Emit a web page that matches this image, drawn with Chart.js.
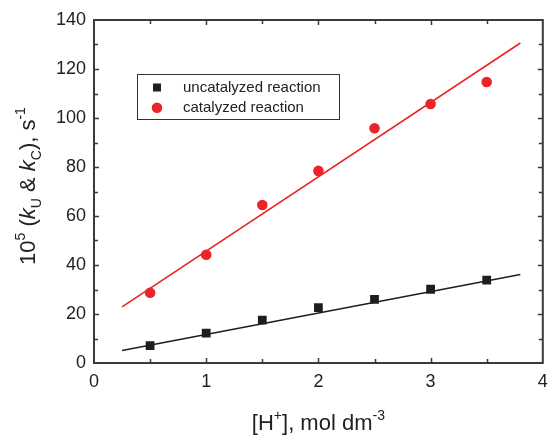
<!DOCTYPE html>
<html>
<head>
<meta charset="utf-8">
<script src="https://cdn.jsdelivr.net/npm/chart.js@4.4.1/dist/chart.umd.min.js"></script>
<style>
  html, body { margin: 0; padding: 0; background: #fff; }
  #wrap { width: 549px; height: 435px; }
</style>
</head>
<body>
<div id="wrap"><canvas id="chart"></canvas></div>
<script>
// [H+] concentrations, mol dm-3
var hConc = [0.5, 1.0, 1.5, 2.0, 2.5, 3.0, 3.5];
// 10^5 k values
var kUncat = [7.1, 12.2, 17.5, 22.6, 26.0, 30.1, 33.8];
var kCat = [28.7, 44.2, 64.5, 78.4, 95.8, 105.7, 114.7];
// fitted lines, end points
var fitX = [0.25, 3.8];
var fitUncat = [5.1, 36.1];
var fitCat = [22.9, 130.6];

var xTicks = [0, 1, 2, 3, 4];
var yTicks = [0, 20, 40, 60, 80, 100, 120, 140];

var BLACK = '#1e1e1e';
var RED = '#ea2427';
var AXIS = '#3a3a3a';

function pts(xs, ys) {
    return xs.map(function (v, i) { return { x: v, y: ys[i] }; });
}

// draw text with super/subscripts, parts = [[text, kind, italic]]
function richWidth(ctx, parts, size) {
    var w = 0;
    parts.forEach(function (p) {
        var s = p[1] ? Math.round(size * 0.62) : size;
        ctx.font = (p[2] ? 'italic ' : '') + s + 'px "Liberation Sans", Arial, sans-serif';
        w += ctx.measureText(p[0]).width;
    });
    return w;
}
function richText(ctx, parts, size, x, y) {
    var cx = x - richWidth(ctx, parts, size) / 2;
    ctx.textBaseline = 'alphabetic';
    ctx.textAlign = 'left';
    parts.forEach(function (p) {
        var s = p[1] ? Math.round(size * 0.62) : size;
        var dy = p[1] === 'sup' ? -size * 0.45 : (p[1] === 'sub' ? size * 0.25 : 0);
        ctx.font = (p[2] ? 'italic ' : '') + s + 'px "Liberation Sans", Arial, sans-serif';
        ctx.fillText(p[0], cx, y + dy);
        cx += ctx.measureText(p[0]).width;
    });
}

var decor = {
    id: 'decor',
    afterDraw: function (chart) {
        var ctx = chart.ctx, a = chart.chartArea;
        var x = chart.scales.x, y = chart.scales.y;
        ctx.save();

        // frame
        ctx.strokeStyle = AXIS;
        ctx.lineWidth = 2;
        ctx.strokeRect(a.left, a.top, a.right - a.left, a.bottom - a.top);

        // inward ticks
        ctx.lineWidth = 1.5;
        ctx.beginPath();
        for (var v = 0.5; v < 4; v += 0.5) {
            var px = Math.round(x.getPixelForValue(v)) + 0.5;
            var len = (v % 1 === 0) ? 5 : 4;
            ctx.moveTo(px, a.bottom); ctx.lineTo(px, a.bottom - len);
            ctx.moveTo(px, a.top); ctx.lineTo(px, a.top + len);
        }
        for (var w = 10; w < 140; w += 10) {
            var py = Math.round(y.getPixelForValue(w)) + 0.5;
            var l2 = (w % 20 === 0) ? 5 : 4;
            ctx.moveTo(a.left, py); ctx.lineTo(a.left + l2, py);
            ctx.moveTo(a.right, py); ctx.lineTo(a.right - l2, py);
        }
        ctx.stroke();

        // legend box
        ctx.lineWidth = 1;
        ctx.strokeStyle = '#333';
        ctx.strokeRect(137.5, 74.5, 202, 45);
        var sets = chart.data.datasets;
        ctx.font = '15px "Liberation Sans", Arial, sans-serif';
        ctx.textBaseline = 'middle';
        ctx.textAlign = 'left';
        ctx.fillStyle = '#222';
        ctx.fillText(sets[0].label, 183, 87.5);
        ctx.fillText(sets[1].label, 183, 107.5);
        ctx.fillStyle = BLACK;
        ctx.fillRect(153, 83.5, 8, 8);
        ctx.fillStyle = RED;
        ctx.beginPath();
        ctx.arc(157, 107.7, 5.3, 0, Math.PI * 2);
        ctx.fill();

        // axis titles
        ctx.fillStyle = '#222';
        richText(ctx, [['[H'], ['+', 'sup'], ['], mol dm'], ['-3', 'sup']], 22, (a.left + a.right) / 2, 430);

        ctx.translate(35, 186);
        ctx.rotate(-Math.PI / 2);
        richText(ctx, [['10'], ['5', 'sup'], [' ('], ['k', null, true], ['U', 'sub'], [' & '],
            ['k', null, true], ['C', 'sub'], ['), s'], ['-1', 'sup']], 22, 0, 0);
        ctx.restore();
    }
};

new Chart(document.getElementById('chart'), {
    type: 'scatter',
    data: {
        datasets: [
            {
                label: 'uncatalyzed reaction',
                data: pts(hConc, kUncat),
                pointStyle: 'rect',
                pointRadius: 6.2,
                backgroundColor: BLACK,
                borderColor: BLACK,
                borderWidth: 0
            },
            {
                label: 'catalyzed reaction',
                data: pts(hConc, kCat),
                pointStyle: 'circle',
                pointRadius: 5.3,
                backgroundColor: RED,
                borderColor: RED,
                borderWidth: 0
            },
            {
                label: 'fit U',
                data: pts(fitX, fitUncat),
                showLine: true,
                pointRadius: 0,
                borderColor: BLACK,
                borderWidth: 1.6,
                order: 5
            },
            {
                label: 'fit C',
                data: pts(fitX, fitCat),
                showLine: true,
                pointRadius: 0,
                borderColor: RED,
                borderWidth: 1.6,
                order: 5
            }
        ]
    },
    options: {
        responsive: true,
        maintainAspectRatio: false,
        animation: false,
        events: [],
        layout: { padding: { left: 0, right: 6, top: 20, bottom: 0 } },
        plugins: {
            legend: { display: false },
            tooltip: { enabled: false }
        },
        scales: {
            x: {
                type: 'linear',
                min: 0,
                max: 4,
                afterBuildTicks: function (s) { s.ticks = xTicks.map(function (v) { return { value: v }; }); },
                afterFit: function (s) { s.height = 72; s.paddingLeft = 0; s.paddingRight = 0; },
                grid: { display: false, drawTicks: false },
                border: { display: false },
                ticks: {
                    padding: 8,
                    color: '#222',
                    font: { family: '"Liberation Sans", Arial, sans-serif', size: 18 }
                }
            },
            y: {
                min: 0,
                max: 140,
                afterBuildTicks: function (s) { s.ticks = yTicks.map(function (v) { return { value: v }; }); },
                afterFit: function (s) { s.width = 94; s.paddingTop = 0; s.paddingBottom = 0; },
                grid: { display: false, drawTicks: false },
                border: { display: false },
                ticks: {
                    padding: 8,
                    color: '#222',
                    font: { family: '"Liberation Sans", Arial, sans-serif', size: 18 }
                }
            }
        }
    },
    plugins: [decor]
});
</script>
</body>
</html>
